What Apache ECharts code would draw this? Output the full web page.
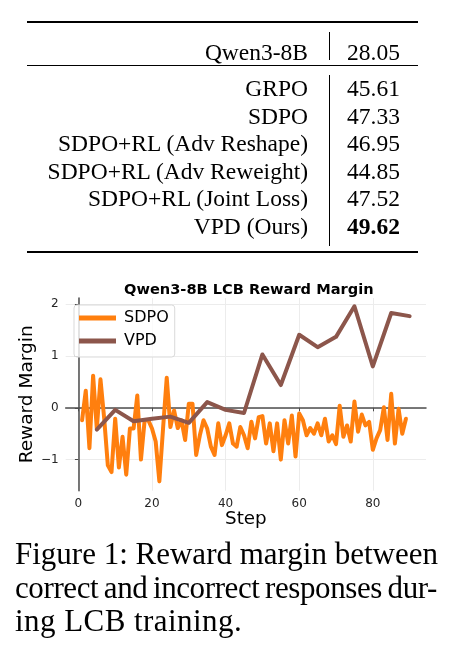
<!DOCTYPE html>
<html>
<head>
<meta charset="utf-8">
<script src="https://cdn.jsdelivr.net/npm/echarts@6/dist/echarts.min.js"></script>
<style>
  html, body { margin: 0; padding: 0; background: #fff; }
  #page { position: relative; width: 451px; height: 651px; overflow: hidden; }
  #chart { position: absolute; left: 0; top: 0; width: 451px; height: 651px; }
  .rule { position: absolute; left: 27px; width: 391px; background: #000; }
  .vline { position: absolute; left: 328.5px; width: 1px; background: #000; }
  .row { position: absolute; left: 0; width: 451px; height: 27.5px; line-height: 27.5px;
         font-family: "Liberation Serif", serif; font-size: 23.5px; color: #000; white-space: nowrap; }
  .row .lab { position: absolute; right: 143px; }
  .row .num { position: absolute; left: 347px; }
  .cap { position: absolute; left: 15px; width: 422px; height: 33.3px; line-height: 33.3px;
         font-family: "Liberation Serif", serif; font-size: 31px; color: #000; white-space: nowrap; }
  .just { text-align: justify; text-align-last: justify; }
</style>
</head>
<body>
<div id="page">
  <div id="chart"></div>
  <div id="table"></div>
  <div class="rule" style="top:21px;height:1.8px"></div>
  <div class="rule" style="top:65px;height:1px"></div>
  <div class="rule" style="top:251px;height:1.8px"></div>
  <div class="vline" style="top:32px;height:28px"></div>
  <div class="vline" style="top:75px;height:171px"></div>
  <div class="cap just" style="top:537px">Figure 1: Reward margin between</div>
  <div class="cap just" style="top:570.5px;letter-spacing:-0.4px;word-spacing:-3px">correct and incorrect responses dur-</div>
  <div class="cap" style="top:604px;letter-spacing:0.45px">ing LCB training.</div>
</div>
<script>
// table
var tableMethods = ['Qwen3-8B', 'GRPO', 'SDPO', 'SDPO+RL (Adv Reshape)', 'SDPO+RL (Adv Reweight)', 'SDPO+RL (Joint Loss)', 'VPD (Ours)'];
var tableScores = ['28.05', '45.61', '47.33', '46.95', '44.85', '47.52', '49.62'];
var rowTops = [38.8, 75, 102.5, 130, 157.5, 185, 212.5];

// chart data
var vpdSteps = [5, 10, 15, 20, 25, 30, 35, 40, 45, 50, 55, 60, 65, 70, 75, 80, 85, 90];
var vpdMargin = [-0.42, -0.04, -0.26, -0.21, -0.17, -0.29, 0.11, -0.04, -0.10, 1.03, 0.44, 1.41, 1.17, 1.37, 1.96, 0.80, 1.83, 1.77];

var sdpoSteps = [1, 2, 3, 4, 5, 6, 7, 8, 9, 10, 11, 12, 13, 14, 15, 16, 17, 18, 19, 20,
  21, 22, 23, 24, 25, 26, 27, 28, 29, 30, 31, 32, 33, 34, 35, 36, 37, 38, 39, 40,
  41, 42, 43, 44, 45, 46, 47, 48, 49, 50, 51, 52, 53, 54, 55, 56, 57, 58, 59, 60,
  61, 62, 63, 64, 65, 66, 67, 68, 69, 70, 71, 72, 73, 74, 75, 76, 77, 78, 79, 80,
  81, 82, 83, 84, 85, 86, 87, 88, 89];
var sdpoMargin = [-0.24, 0.33, -0.78, 0.62, -0.40, 0.55, -0.20, -1.11, -1.24, -0.21,
  -1.15, -0.56, -1.29, -0.40, -0.40, 0.24, -1.00, -0.24, -0.24, -0.40,
  -0.65, -1.42, -0.40, 0.58, -0.37, -0.05, -0.39, -0.24, -0.62, 0.08,
  0.08, -0.91, -0.53, -0.24, -0.40, -0.75, -0.91, -0.30, -0.72, -0.53,
  -0.30, -0.69, -0.75, -0.37, -0.53, -0.78, -0.27, -0.59, -0.18, -0.16,
  -0.69, -0.30, -0.84, -0.30, -1.00, -0.24, -0.69, -0.15, -0.94, -0.11,
  -0.24, -0.53, -0.39, -0.50, -0.30, -0.53, -0.21, -0.65, -0.53, -0.70,
  0.04, -0.56, -0.34, -0.65, 0.12, -0.46, -0.13, -0.34, -0.27, -0.81,
  -0.59, -0.43, 0.01, -0.62, 0.27, -0.69, -0.02, -0.50, -0.21];

var xTicks = [0, 20, 40, 60, 80];
var yTicks = [-1, 0, 1, 2];

var html = '';
for (var i = 0; i < tableMethods.length; i++) {
  var num = i === tableMethods.length - 1 ? '<b>' + tableScores[i] + '</b>' : tableScores[i];
  html += '<div class="row" style="top:' + rowTops[i] + 'px"><span class="lab">' + tableMethods[i] +
          '</span><span class="num">' + num + '</span></div>';
}
document.getElementById('table').innerHTML = html;

function pairs(xs, ys) {
  var out = [];
  for (var i = 0; i < xs.length; i++) out.push([xs[i], ys[i]]);
  return out;
}

var axisColor = '#4d4d4d';
var font = 'DejaVu Sans';

var chart = echarts.init(document.getElementById('chart'), null, { renderer: 'canvas' });
chart.setOption({
  animation: false,
  backgroundColor: 'transparent',
  title: {
    text: 'Qwen3-8B LCB Reward Margin',
    left: 119, top: 278,
    textStyle: { fontFamily: font, fontWeight: 'bold', fontSize: 14.6, color: '#000' }
  },
  legend: {
    left: 74, top: 305,
    orient: 'vertical',
    icon: 'rect',
    itemWidth: 37, itemHeight: 5, itemGap: 5,
    padding: [4, 6, 7, 5],
    backgroundColor: 'rgba(255,255,255,0.8)',
    borderColor: '#d9d9d9', borderWidth: 1, borderRadius: 3,
    textStyle: { fontFamily: font, fontSize: 16, color: '#000', lineHeight: 18, padding: [0, 0, 0, 3] },
    data: ['SDPO', 'VPD']
  },
  grid: { left: 65.7, top: 298, right: 25, bottom: 160.3, containLabel: false },
  xAxis: {
    type: 'value', min: -3.45, max: 94.45,
    name: 'Step', nameLocation: 'middle', nameGap: 20, nameMoveOverlap: false,
    nameTextStyle: { fontFamily: font, fontSize: 18.3, color: '#000' },
    axisLine: { show: true, lineStyle: { color: axisColor, width: 1.5 } },
    axisTick: { show: true, length: 3.5, customValues: xTicks, lineStyle: { color: axisColor } },
    axisLabel: { customValues: xTicks, margin: 7, fontFamily: font, fontSize: 12, color: '#262626' },
    splitLine: { show: true, lineStyle: { color: '#ececec', width: 1 } }
  },
  yAxis: {
    type: 'value', min: -1.6, max: 2.12,
    name: 'Reward Margin', nameLocation: 'middle', nameGap: 29, nameMoveOverlap: false,
    nameTextStyle: { fontFamily: font, fontSize: 18.5, color: '#000' },
    axisLine: { show: true, lineStyle: { color: axisColor, width: 1.5 } },
    axisTick: { show: true, length: 3.5, customValues: yTicks, lineStyle: { color: axisColor } },
    axisLabel: {
      customValues: yTicks, margin: 7, fontFamily: font, fontSize: 12, color: '#262626',
      formatter: function (v) { return String(v).replace('-', '\u2212'); }
    },
    splitLine: { show: true, lineStyle: { color: '#ececec', width: 1 } }
  },
  series: [
    {
      name: 'SDPO', type: 'line', symbol: 'none', color: '#ff7f0e',
      lineStyle: { width: 4, join: 'round', cap: 'round' },
      data: pairs(sdpoSteps, sdpoMargin)
    },
    {
      name: 'VPD', type: 'line', symbol: 'none', color: '#8c564b',
      lineStyle: { width: 4, join: 'round', cap: 'round' },
      data: pairs(vpdSteps, vpdMargin)
    }
  ]
});
</script>
</body>
</html>
